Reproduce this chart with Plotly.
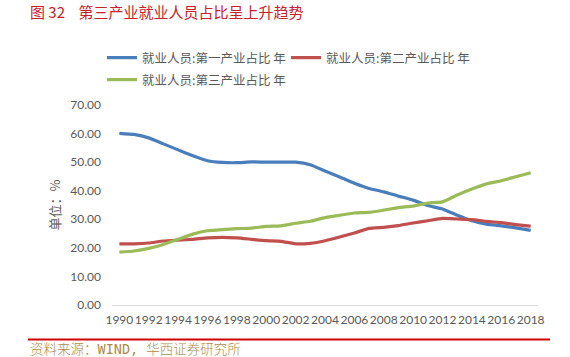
import plotly.graph_objects as go

years = [str(y) for y in range(1990, 2019)]
primary = [60.1, 59.7, 58.5, 56.4, 54.3, 52.2, 50.5, 49.9, 49.8, 50.1, 50.0, 50.0, 50.0, 49.1,
           46.9, 44.8, 42.6, 40.8, 39.6, 38.1, 36.7, 34.8, 33.6, 31.4, 29.5, 28.3, 27.7, 27.0, 26.1]
secondary = [21.4, 21.4, 21.7, 22.4, 22.7, 23.0, 23.5, 23.7, 23.5, 23.0, 22.5, 22.3, 21.4, 21.6,
             22.5, 23.8, 25.2, 26.8, 27.2, 27.8, 28.7, 29.5, 30.3, 30.1, 29.9, 29.3, 28.8, 28.1, 27.6]
tertiary = [18.5, 18.9, 19.8, 21.2, 23.0, 24.8, 26.0, 26.4, 26.7, 26.9, 27.5, 27.7, 28.6, 29.3,
            30.6, 31.4, 32.2, 32.4, 33.2, 34.1, 34.6, 35.7, 36.1, 38.5, 40.6, 42.4, 43.5, 44.9, 46.3]
names = ["就业人员:第一产业占比 年", "就业人员:第二产业占比 年", "就业人员:第三产业占比 年"]
colors = ["#4a7ebb", "#c0504d", "#9bbb59"]
legend_ids = ["legend", "legend2", "legend3"]
y_ticks = [0, 10, 20, 30, 40, 50, 60, 70]
x_ticks = years[::2]

fig = go.Figure()
for vals, nm, c, lg in zip([primary, secondary, tertiary], names, colors, legend_ids):
    fig.add_trace(go.Scatter(x=years, y=vals, name=nm, mode="lines", legend=lg,
                             line=dict(color=c, width=3.2, shape="spline", smoothing=0.4)))

W, H = 570, 357
L, R, T, B = 112, 32, 105, 52
pw = W - L - R
ph = H - T - B

leg_common = dict(orientation="h", xanchor="left", yanchor="top",
                  font=dict(family="Noto Sans CJK SC", size=12.5, color="#595959"),
                  tracegroupgap=0, itemwidth=30, bgcolor="rgba(0,0,0,0)")

fig.update_layout(
    width=W, height=H,
    margin=dict(l=L, r=R, t=T, b=B, autoexpand=False),
    paper_bgcolor="white", plot_bgcolor="white",
    font=dict(family="Lato, Noto Sans CJK SC, sans-serif", color="#595959", size=12),
    showlegend=True,
    legend=dict(x=(102 - L) / pw, y=(H - B - 43) / ph, **leg_common),
    legend2=dict(x=(286 - L) / pw, y=(H - B - 43) / ph, **leg_common),
    legend3=dict(x=(102 - L) / pw, y=(H - B - 65) / ph, **leg_common),
    xaxis=dict(type="category", showgrid=False, showline=True, linecolor="#d9d9d9",
               linewidth=1, ticks="", tickfont=dict(size=12, color="#595959"),
               tickmode="array", tickvals=x_ticks, ticktext=x_ticks, ticklabelstandoff=4,
               tickangle=0, range=[-0.5, 28.5], automargin=False),
    yaxis=dict(range=[0, 70], tickvals=y_ticks, ticktext=[f"{v:.2f}" for v in y_ticks],
               showgrid=False, zeroline=False, showline=False, ticks="",
               tickfont=dict(size=12, color="#595959"), automargin=False,
               ticklabelstandoff=10,
               title=dict(text="单位：%", font=dict(family="Noto Sans CJK SC", size=13, color="#595959"),
                          standoff=6)),
)

# header / footer
fig.add_annotation(xref="paper", yref="paper", x=(28 - L) / pw, y=(H - B - 12) / ph,
                   xanchor="left", yanchor="middle", showarrow=False,
                   text="图 32    第三产业就业人员占比呈上升趋势",
                   font=dict(family="Noto Sans CJK SC", size=15, color="#c8202c"))
fig.add_shape(type="line", xref="paper", yref="paper",
              x0=(28 - L) / pw, x1=(550 - L) / pw,
              y0=(H - B - 339.5) / ph, y1=(H - B - 339.5) / ph,
              line=dict(color="#d00000", width=2.2))
fig.add_annotation(xref="paper", yref="paper", x=(28 - L) / pw, y=(H - B - 349) / ph,
                   xanchor="left", yanchor="middle", showarrow=False,
                   text="资料来源：WIND, 华西证券研究所",
                   font=dict(family="DejaVu Sans Mono, Noto Sans CJK SC", size=13.5,
                             color="#b08a4a", weight=300))

fig.write_html("out.html", config={"displayModeBar": False},
               post_script="document.body.style.margin='0';document.body.style.overflow='hidden';")
